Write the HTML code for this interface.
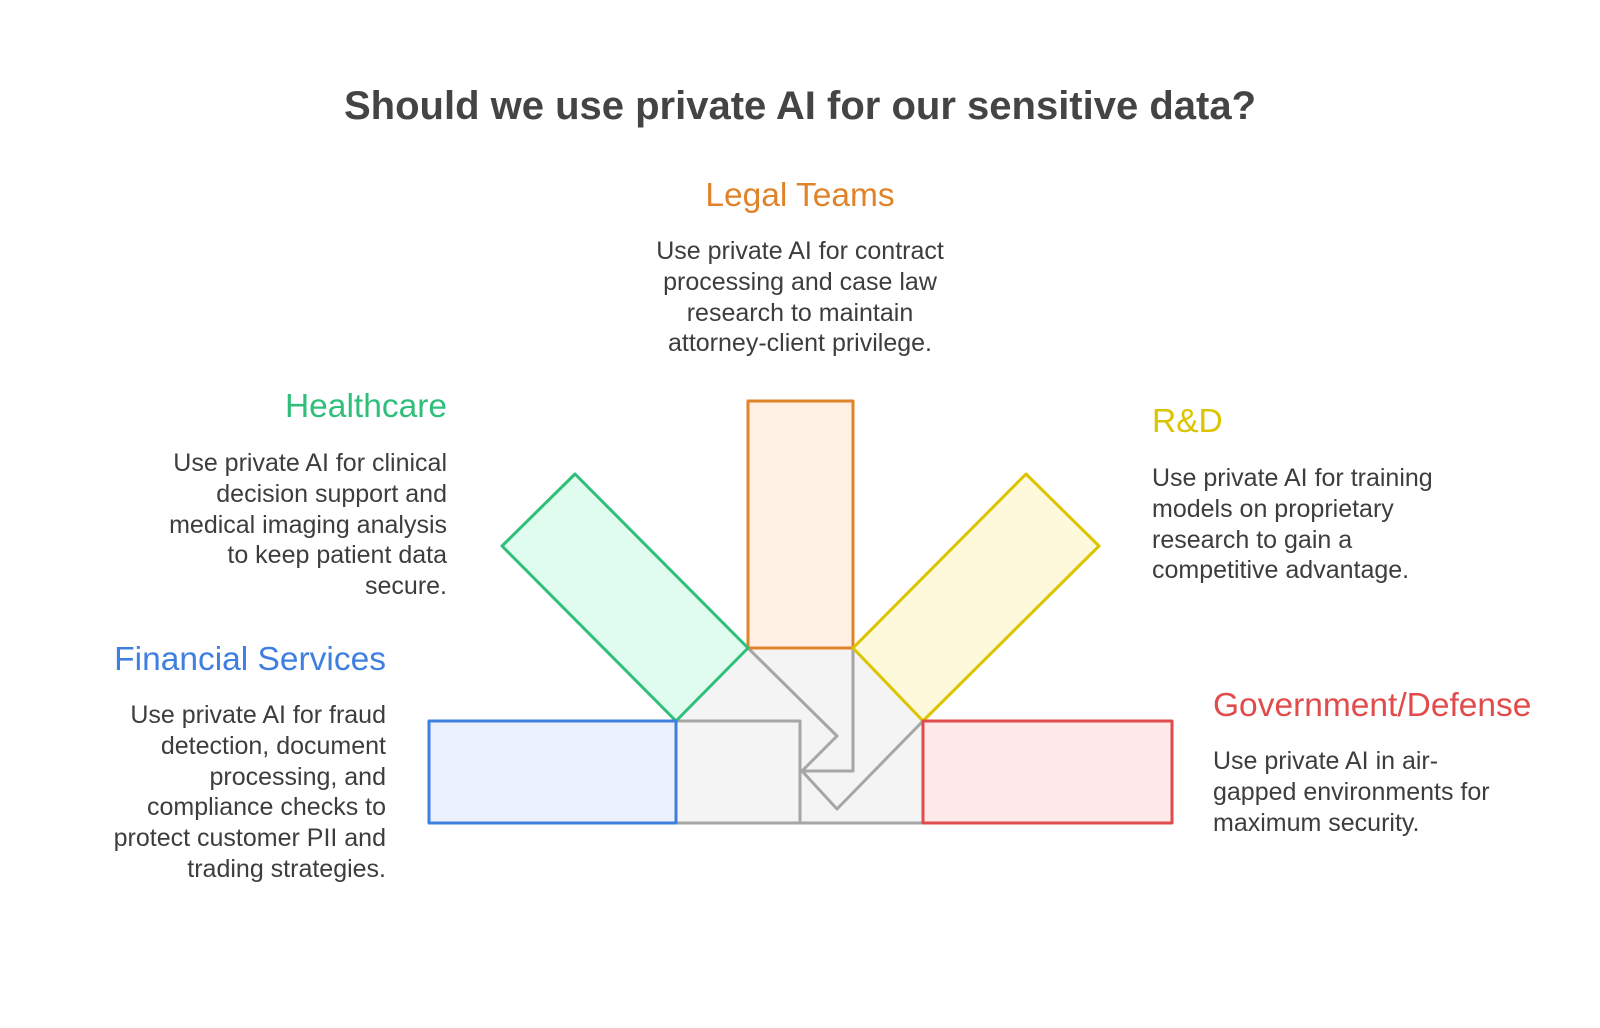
<!DOCTYPE html>
<html><head><meta charset="utf-8"><style>
body{margin:0;width:1600px;height:1028px;background:#fff;position:relative;overflow:hidden;font-family:"Liberation Sans",sans-serif;}
.t{position:absolute;white-space:nowrap}
.h{font-size:33.5px;line-height:36px}
.b{font-size:25px;line-height:30.8px;color:#3d3d3d}
.r{text-align:right}
</style></head><body>
<div class="t" style="left:0;width:1600px;text-align:center;top:84px;font-size:40px;font-weight:bold;color:#444">Should we use private AI for our sensitive data?</div>

<div class="t h" style="left:600px;width:400px;text-align:center;top:178px;color:#e0832a">Legal Teams</div>
<div class="t b" style="left:550px;width:500px;text-align:center;top:236px">Use private AI for contract<br>processing and case law<br>research to maintain<br>attorney-client privilege.</div>

<div class="t h r" style="right:1153px;top:389px;color:#2fbf7a">Healthcare</div>
<div class="t b r" style="right:1153px;top:448px">Use private AI for clinical<br>decision support and<br>medical imaging analysis<br>to keep patient data<br>secure.</div>

<div class="t h r" style="right:1214px;top:642px;color:#3f7fe0">Financial Services</div>
<div class="t b r" style="right:1214px;top:700px">Use private AI for fraud<br>detection, document<br>processing, and<br>compliance checks to<br>protect customer PII and<br>trading strategies.</div>

<div class="t h" style="left:1152px;top:404px;color:#dcc400">R&amp;D</div>
<div class="t b" style="left:1152px;top:463px">Use private AI for training<br>models on proprietary<br>research to gain a<br>competitive advantage.</div>

<div class="t h" style="left:1213px;top:688px;color:#e24b4b">Government/Defense</div>
<div class="t b" style="left:1213px;top:746px">Use private AI in air-<br>gapped environments for<br>maximum security.</div>

<svg width="1600" height="1028" style="position:absolute;left:0;top:0">
<g stroke-width="3" stroke-linejoin="round" transform="translate(-4,-1)">
<rect x="680" y="649" width="247" height="175" fill="#f4f4f4" stroke="#a6a6a6"/>
<polyline points="680,722 804,722 804,824" fill="none" stroke="#a6a6a6"/>
<polyline points="752,649 841,737 806,772 857,772 857,649" fill="none" stroke="#a6a6a6"/>
<polyline points="927,722 841,810 806,772" fill="none" stroke="#a6a6a6"/>
<rect x="752" y="402" width="105" height="247" fill="#fff0e3" stroke="#e0832a"/>
<polygon points="579,475 506,547 680,722 752,649" fill="#e0fcef" stroke="#2fbf7a"/>
<polygon points="1030,475 1103,547 927,722 857,649" fill="#fef9db" stroke="#dcc400"/>
<rect x="433" y="722" width="247" height="102" fill="#ecf2fd" stroke="#3f7fe0"/>
<rect x="927" y="722" width="249" height="102" fill="#feeaea" stroke="#e24b4b"/>
</g></svg>
</body></html>
